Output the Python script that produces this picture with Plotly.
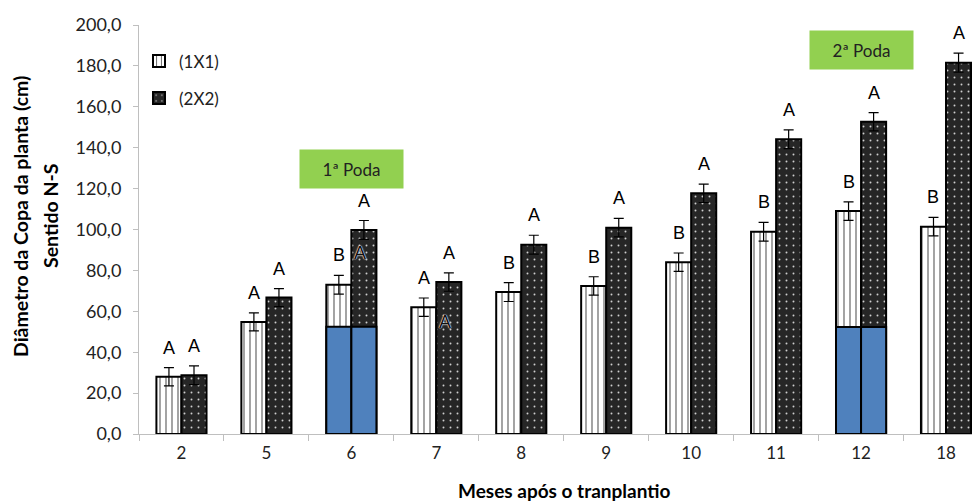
import plotly.graph_objects as go

# ---------------- data ----------------
months = ["2", "5", "6", "7", "8", "9", "10", "11", "12", "18"]
d_1x1 = [28.0, 54.8, 73.0, 62.0, 69.4, 72.4, 84.0, 98.9, 109.0, 101.4]
d_2x2 = [28.7, 66.7, 99.8, 74.3, 92.6, 100.9, 117.7, 144.1, 152.7, 181.6]
err_1x1 = [4.5, 4.4, 4.6, 4.5, 4.6, 4.5, 4.5, 4.6, 4.5, 4.5]
err_2x2 = [4.6, 4.4, 4.6, 4.5, 4.6, 4.5, 4.5, 4.6, 4.5, 4.6]
letters_1x1 = ["A", "A", "B", "A", "B", "B", "B", "B", "B", "B"]
letters_2x2 = ["A", "A", "A", "A", "A", "A", "A", "A", "A", "A"]
# height of the pruned part (poda) shown in blue
poda_1x1 = [None, None, 52.5, None, None, None, None, None, 52.3, None]
poda_2x2 = [None, None, 52.5, None, None, None, None, None, 52.3, None]
poda_labels = ["1ª Poda", "2ª Poda"]
poda_months = ["6", "12"]
poda_label_y = [129.6, 188.0]
stray_months = ["6", "7"]
stray_y = [88.5, 55.0]
stray_text = ["A", "A"]

W = 0.295
fig = go.Figure()

fig.add_trace(go.Bar(
    x=months, y=d_1x1, name="(1X1)", width=W, offset=-W,
    marker=dict(color="white", line=dict(color="black", width=2),
                pattern=dict(shape="|", fgcolor="#555555", bgcolor="white",
                             size=6, solidity=0.18, fillmode="replace")),
    error_y=dict(type="data", array=err_1x1, color="black", thickness=1.2, width=5),
    legendgroup="a",
))
fig.add_trace(go.Bar(
    x=months, y=d_2x2, name="(2X2)", width=W, offset=0,
    marker=dict(color="#262626", line=dict(color="black", width=2),
                pattern=dict(shape=".", fgcolor="#cfcfcf", bgcolor="#262626",
                             size=7, solidity=0.06, fillmode="replace")),
    error_y=dict(type="data", array=err_2x2, color="black", thickness=1.2, width=5),
    legendgroup="b",
))
fig.add_trace(go.Bar(
    x=months, y=poda_1x1, width=W, offset=-W, showlegend=False,
    marker=dict(color="#4f81bd", line=dict(color="black", width=2)),
))
fig.add_trace(go.Bar(
    x=months, y=poda_2x2, width=W, offset=0, showlegend=False,
    marker=dict(color="#4f81bd", line=dict(color="black", width=2)),
))

ann = []
for i, m in enumerate(months):
    ann.append(dict(x=i - W / 2, xref="x", y=d_1x1[i] + err_1x1[i], yref="y",
                    text=letters_1x1[i], showarrow=False, yanchor="bottom", yshift=8,
                    font=dict(family="Liberation Sans", size=18, color="black")))
    ann.append(dict(x=i + W / 2, xref="x", y=d_2x2[i] + err_2x2[i], yref="y",
                    text=letters_2x2[i], showarrow=False, yanchor="bottom", yshift=8,
                    font=dict(family="Liberation Sans", size=18, color="black")))
for m, yv, t in zip(stray_months, stray_y, stray_text):
    i = months.index(m)
    ann.append(dict(x=i + W / 2 - 0.05, xref="x", y=yv, yref="y", text=t, showarrow=False,
                    yanchor="middle",
                    font=dict(family="Liberation Sans", size=18, color="#111111",
                              shadow="0 0 1px #ffffff, 0 0 1px #ffffff, 0 0 2px #bbbbbb")))
for m, yv, t in zip(poda_months, poda_label_y, poda_labels):
    i = months.index(m)
    ann.append(dict(x=i, xref="x", y=yv, yref="y", text=t, showarrow=False,
                    bgcolor="#92d050", width=103, height=38, borderpad=0,
                    font=dict(family="Lato", size=17, color="#222222")))
# axis titles
ann.append(dict(x=4.5, xref="x", y=0, yref="paper", yanchor="middle", yshift=-56,
                text="<b>Meses após o tranplantio</b>", showarrow=False,
                font=dict(family="Lato", size=19, color="black")))
ann.append(dict(x=-0.1415, xref="paper", y=0.533, yref="paper", xanchor="center",
                yanchor="middle", textangle=-90,
                text="<b>Diâmetro da Copa da planta (cm)</b>", showarrow=False,
                font=dict(family="Lato", size=19.5, color="black")))
ann.append(dict(x=-0.1058, xref="paper", y=0.533, yref="paper", xanchor="center",
                yanchor="middle", textangle=-90,
                text="<b>Sentido N-S</b>", showarrow=False,
                font=dict(family="Lato", size=19.5, color="black")))

fig.update_layout(
    width=972, height=494,
    margin=dict(l=131, r=0, t=17, b=68),
    barmode="overlay",
    plot_bgcolor="white", paper_bgcolor="white",
    separators=",.",
    font=dict(family="Lato", size=17, color="#222222"),
    annotations=ann,
    legend=dict(x=0.0, y=0.955, xanchor="left", yanchor="top",
                font=dict(family="Lato", size=17, color="#222222"),
                bgcolor="rgba(0,0,0,0)", tracegroupgap=12, itemwidth=30),
    showlegend=True,
)
fig.update_xaxes(type="category", range=[-0.5, 9.4], showline=True, linecolor="#bfbfbf",
                 linewidth=1, ticks="outside", tickson="boundaries", ticklen=6,
                 tickcolor="#bfbfbf", showgrid=False, zeroline=False,
                 ticklabelstandoff=4,
                 tickfont=dict(family="Lato", size=17, color="#222222"))
fig.update_yaxes(range=[0, 200], dtick=20, tickformat=".1f", showline=True,
                 linecolor="#bfbfbf", linewidth=1, ticks="outside", ticklen=5,
                 tickcolor="#bfbfbf", showgrid=False, zeroline=False,
                 ticklabelstandoff=8,
                 tickfont=dict(family="Lato", size=18, color="#222222"))

fig.write_html("out.html")
